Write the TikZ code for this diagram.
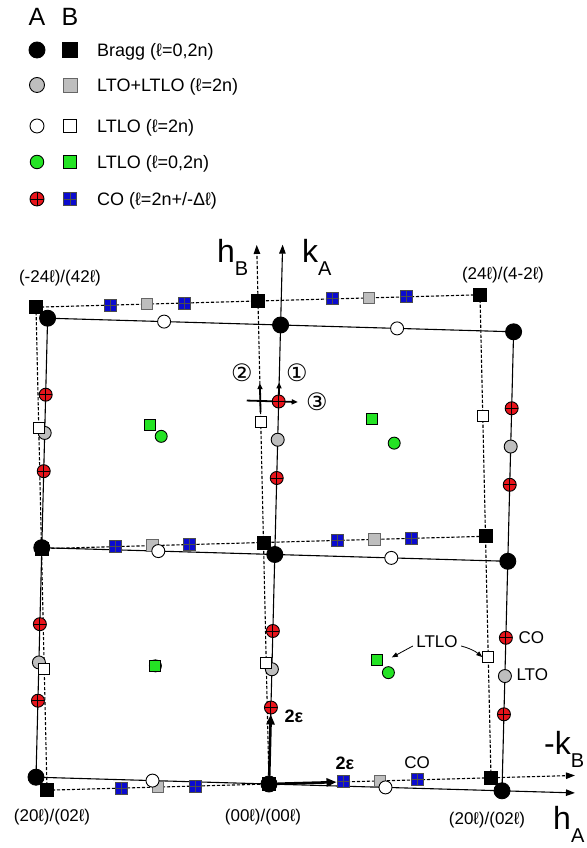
\documentclass[tikz,border=0pt]{standalone}
\usepackage{fontspec}
\setmainfont{Liberation Sans}
\newfontfamily\circfont{DejaVu Sans}
\usetikzlibrary{arrows.meta,calc}
\definecolor{cored}{HTML}{E8141B}
\definecolor{coblue}{HTML}{0B0BCF}
\definecolor{ltlogreen}{HTML}{24E324}
\definecolor{ltogray}{HTML}{BEBEBE}
\tikzset{
  every picture/.style={>={Triangle[length=9pt,width=6.5pt]}, x=1pt, y=1pt,
    font=\fontsize{17}{20}\selectfont},
  latA/.style={shift={(269,64)}, x={(233pt,-6.8pt)}, y={(5.8pt,229.5pt)}},
  latB/.style={shift={(269,64)}, x={(222pt,6.2pt)}, y={(-5.5pt,241.5pt)}},
  lineA/.style={line width=1.1pt},
  lineB/.style={line width=1.1pt, dash pattern=on 3.2pt off 1.8pt},
  spot/.style={circle, draw, line width=0.9pt, inner sep=0pt, minimum size=13pt},
  tile/.style={rectangle, draw, line width=0.9pt, inner sep=0pt, minimum size=11.5pt},
  quarter/.style={path picture={\draw[line width=0.9pt]
    (path picture bounding box.north) -- (path picture bounding box.south)
    (path picture bounding box.west) -- (path picture bounding box.east);}},
  pinned/.style={path picture={\fill (path picture bounding box.center) circle (0.9pt);}},
  braggA/.style={spot, fill=black, minimum size=16pt},
  braggB/.style={tile, fill=black, minimum size=13pt},
  ltoA/.style={spot, fill=ltogray},
  ltoB/.style={tile, fill=ltogray, draw=black!60},
  ltloA/.style={spot, fill=white},
  ltloB/.style={tile, fill=white, minimum size=11pt},
  greenA/.style={spot, fill=ltlogreen, minimum size=12pt, pinned},
  greenB/.style={tile, fill=ltlogreen, minimum size=11pt, pinned},
  coA/.style={spot, fill=cored, quarter},
  coB/.style={tile, fill=coblue, minimum size=12pt, draw=black!70, quarter},
  epsarrow/.style={-{Triangle[length=10pt,width=8pt]}, line width=2.6pt},
  rotarrow/.style={-{Triangle[length=6pt,width=5pt]}, line width=1.8pt},
  notearrow/.style={-{Triangle[length=6pt,width=4.5pt]}, line width=0.8pt},
  axislabel/.style={font=\fontsize{32}{32}\selectfont, inner sep=0pt, anchor=base west},
  circnum/.style={font=\circfont\fontsize{24}{24}\selectfont, inner sep=0pt},
  keytext/.style={anchor=base west, inner sep=0pt, font=\fontsize{18}{20}\selectfont},
  keyhead/.style={font=\fontsize{25}{25}\selectfont},
  epslabel/.style={font=\bfseries\fontsize{18}{18}\selectfont},
}
\newcommand{\withsub}[2]{#1\raisebox{-0.4em}{\fontsize{20}{20}\selectfont #2}}

\begin{document}
\begin{tikzpicture}
  \useasboundingbox (0,0) rectangle (586,848);
  \node[keyhead] (headA) at (37,831) {A};
  \node[keyhead] (headB) at (70,831) {B};
  \node[braggA] (keyA1) at (37,798) {};
  \node[braggB, minimum size=15pt] (keyB1) at (70,798) {};
  \node[keytext] (key1) at (97,791.5) {Bragg (ℓ=0,2n)};
  \node[ltoA, minimum size=15pt] (keyA2) at (37,763) {};
  \node[ltoB, minimum size=14pt] (keyB2) at (70,763) {};
  \node[keytext] (key2) at (97,756.5) {LTO+LTLO (ℓ=2n)};
  \node[ltloA, minimum size=14pt] (keyA3) at (37,722) {};
  \node[ltloB, minimum size=13pt] (keyB3) at (70,722) {};
  \node[keytext] (key3) at (97,715.5) {LTLO (ℓ=2n)};
  \node[greenA, minimum size=13.5pt] (keyA4) at (37,686) {};
  \node[greenB, minimum size=12.5pt] (keyB4) at (70,686) {};
  \node[keytext] (key4) at (97,679.5) {LTLO (ℓ=0,2n)};
  \node[coA, minimum size=14pt] (keyA5) at (37,649) {};
  \node[coB, minimum size=13pt] (keyB5) at (70,649) {};
  \node[keytext] (key5) at (97,642.5) {CO (ℓ=2n+/-Δℓ)};

  \begin{scope}[latB]
    \draw[lineB] (-1,0) -- (-1,2) (1,0) -- (1,2) (-1,1) -- (1,1) (-1,2) -- (1,2);
    \draw[lineB,->] (-1,0) -- (1.378,0);
    \draw[lineB,->] (0,0) -- (0,2.232);
  \end{scope}
  \begin{scope}[latA]
    \draw[lineA] (-1,0) -- (-1,2) (1,0) -- (1,2) (-1,1) -- (1,1) (-1,2) -- (1,2);
    \draw[lineA,->] (-1,0) -- (1.313,0);
    \draw[lineA,->] (0,0) -- (0,2.35);
    \draw[rotarrow] (-0.137,1.6667) -- (0.082,1.6667);
    \draw[rotarrow] (0,1.6667) -- (0,1.75);
  \end{scope}
  \begin{scope}[latB]
    \draw[rotarrow] (0,1.54) -- (0,1.66);
    \foreach \i/\n in {-1/0,0/1,1/2} \foreach \j in {0,1,2} \node[braggB] (b\n\j) at (\i,\j) {};
    \foreach \j in {0,1,2} {
      \node[ltoB] (gsl\j) at (-0.5,\j) {};
      \node[ltoB] (gsr\j) at (0.5,\j) {};
      \node[coB] (cb0\j) at (-0.6667,\j) {};
      \node[coB] (cb1\j) at (-0.3333,\j) {};
      \node[coB] (cb2\j) at (0.3333,\j) {};
      \node[coB] (cb3\j) at (0.6667,\j) {};
    }
    \foreach \i/\n in {-0.5/0,0.5/1} \foreach \j/\m in {0.5/0,1.5/1} \node[greenB] (gb\n\m) at (\i,\j) {};
  \end{scope}
  \begin{scope}[latA]
    \foreach \i/\n in {-1/0,0/1,1/2} {
      \foreach \j in {0,1,2} \node[braggA] (a\n\j) at (\i,\j) {};
      \node[ltoA] (lto\n0) at (\i,0.5) {};
      \node[ltoA] (lto\n1) at (\i,1.5) {};
      \foreach \j/\m in {0.3333/0,0.6667/1,1.3333/2,1.6667/3} \node[coA] (co\n\m) at (\i,\j) {};
    }
    \foreach \j in {0,1,2} {
      \node[ltloA] (wl\j) at (-0.5,\j) {};
      \node[ltloA] (wr\j) at (0.5,\j) {};
    }
    \foreach \i/\n in {-0.5/0,0.5/1} \foreach \j/\m in {0.5/0,1.5/1} \node[greenA] (ga\n\m) at (\i,\j) {};
  \end{scope}
  \begin{scope}[latB]
    \foreach \i/\n in {-1/0,0/1,1/2} \foreach \j/\m in {0.5/0,1.5/1} \node[ltloB] (wb\n\m) at (\i,\j) {};
  \end{scope}
  \node[greenB] (gb00top) at (gb00) {};

  \draw[epsarrow] (a10) -- (co10);
  \draw[epsarrow] (a10) -- (cb20);
  \node[epslabel, anchor=west] (epsk) at (281,132) {2ε};
  \node[epslabel] (epsh) at (345,85) {2ε};
  \node (coH) at (417,85) {CO};
  \node[anchor=west] (coV) at (515,210) {CO};
  \node[anchor=west] (ltoV) at (513,173) {LTO};
  \node (ltloN) at (437,206) {LTLO};
  \draw[notearrow] ($(ltloN.west)+(0,-4)$) -- ($(gb10)!0.5!(ga10)+(9,9)$);
  \draw[notearrow] ($(ltloN.east)+(0,-4)$) to[bend left=12] (wb20.west);

  \node[circnum] (n2) at (242,475) {②};
  \node[circnum] (n1) at (297,475) {①};
  \node[circnum] (n3) at (317,446) {③};

  \node[axislabel] (hB) at (217,585) {\withsub{h}{B}};
  \node[axislabel] (kA) at (302,585) {\withsub{k}{A}};
  \node[axislabel] (kB) at (544,93) {\withsub{-k}{B}};
  \node[axislabel] (hA) at (553,18) {\withsub{h}{A}};

  \node (lblTL) at (60,570) {(-24ℓ)/(42ℓ)};
  \node (lblTR) at (503,573) {(24ℓ)/(4-2ℓ)};
  \node (lblBL) at (52,31) {(20ℓ)/(02ℓ)};
  \node (lblO) at (263,31) {(00ℓ)/(00ℓ)};
  \node (lblBR) at (487,28) {(20ℓ)/(02ℓ)};
\end{tikzpicture}
\end{document}
